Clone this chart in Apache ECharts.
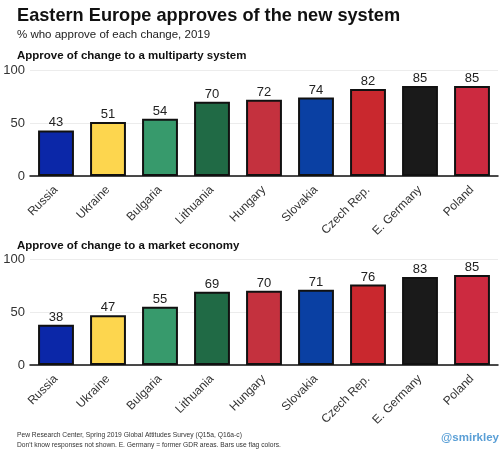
<!DOCTYPE html>
<html>
<head>
<meta charset="utf-8">
<script src="https://cdn.jsdelivr.net/npm/echarts@6/dist/echarts.min.js"></script>
<style>
  html, body { margin: 0; padding: 0; background: #fff; }
  #chart { width: 503px; height: 450px; }
</style>
</head>
<body>
<div id="chart"></div>
<script>
// Data
const countries = ['Russia', 'Ukraine', 'Bulgaria', 'Lithuania', 'Hungary', 'Slovakia', 'Czech Rep.', 'E. Germany', 'Poland'];
const flagColors = ['#0b27a8', '#fdd64e', '#379a6c', '#206a45', '#c4313e', '#0a40a3', '#c9282e', '#1a1a1a', '#cc2a40'];
const multiparty = [43, 51, 54, 70, 72, 74, 82, 85, 85];
const market = [38, 47, 55, 69, 70, 71, 76, 83, 85];
const yTicks = [0, 50, 100];

const FONT = 'Liberation Sans, Arial, sans-serif';

const chart = echarts.init(document.getElementById('chart'));

function bars(values, idx) {
  return {
    type: 'bar',
    xAxisIndex: idx, yAxisIndex: idx,
    barWidth: '69%',
    data: values.map((v, i) => ({ value: v, itemStyle: { color: flagColors[i] } })),
    itemStyle: { borderColor: '#111', borderWidth: 2 },
    label: { show: true, position: 'top', distance: 1, color: '#222', fontSize: 13, fontFamily: FONT },
    silent: true,
  };
}

const xAxisBase = {
  type: 'category',
  data: countries,
  axisTick: { show: false },
  axisLine: { lineStyle: { color: '#111', width: 1.5 } },
  axisLabel: { rotate: 45, fontSize: 12, color: '#333', fontFamily: FONT, margin: 12, interval: 0 },
};
const yAxisBase = {
  type: 'value', min: 0, max: yTicks[yTicks.length - 1], interval: 50,
  axisLabel: { fontSize: 13, color: '#333', fontFamily: FONT, margin: 5 },
  splitLine: { lineStyle: { color: '#ececec', width: 1 } },
  axisLine: { show: false }, axisTick: { show: false },
};

chart.setOption({
  animation: false,
  backgroundColor: '#fff',
  title: [
    { text: 'Eastern Europe approves of the new system', left: 12, top: 2,
      textStyle: { fontSize: 18.2, fontWeight: 'bold', color: '#111', fontFamily: FONT } },
    { text: '% who approve of each change, 2019', left: 12, top: 24,
      textStyle: { fontSize: 11.5, fontWeight: 'normal', color: '#222', fontFamily: FONT } },
    { text: 'Approve of change to a multiparty system', left: 12, top: 45,
      textStyle: { fontSize: 11.5, fontWeight: 'bold', color: '#111', fontFamily: FONT } },
    { text: 'Approve of change to a market economy', left: 12, top: 235,
      textStyle: { fontSize: 11.5, fontWeight: 'bold', color: '#111', fontFamily: FONT } },
  ],
  grid: [
    { left: 30, right: 5, top: 70, height: 106 },
    { left: 30, right: 5, top: 259, height: 106 },
  ],
  xAxis: [Object.assign({ gridIndex: 0 }, xAxisBase), Object.assign({ gridIndex: 1 }, xAxisBase)],
  yAxis: [Object.assign({ gridIndex: 0 }, yAxisBase), Object.assign({ gridIndex: 1 }, yAxisBase)],
  series: [bars(multiparty, 0), bars(market, 1)],
  graphic: [
    { type: 'text', left: 17, top: 432,
      style: { text: 'Pew Research Center, Spring 2019 Global Attitudes Survey (Q15a, Q16a-c)', fontSize: 6.7, fill: '#333', fontFamily: FONT } },
    { type: 'text', left: 17, top: 442,
      style: { text: "Don't know responses not shown. E. Germany = former GDR areas. Bars use flag colors.", fontSize: 6.7, fill: '#333', fontFamily: FONT } },
    { type: 'text', right: 4, top: 432,
      style: { text: '@smirkley', fontSize: 11.5, fontWeight: 'bold', fill: '#5a9fd6', fontFamily: FONT } },
  ],
});
</script>
</body>
</html>
